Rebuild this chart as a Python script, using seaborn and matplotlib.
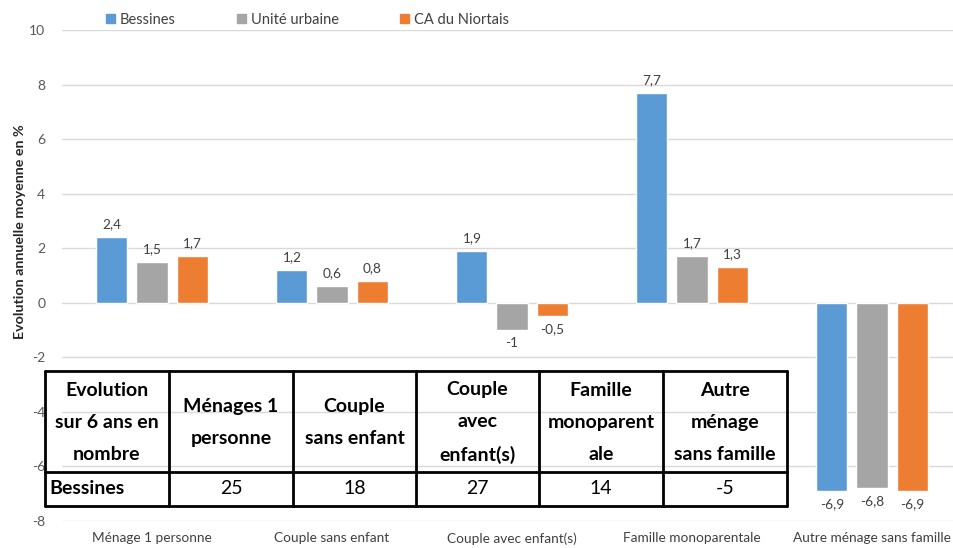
import matplotlib
matplotlib.use("Agg")
import matplotlib.pyplot as plt
import seaborn as sns
import pandas as pd
from matplotlib.patches import Rectangle
from matplotlib.lines import Line2D

categories = ["Ménage 1 personne", "Couple sans enfant", "Couple avec enfant(s)",
              "Famille monoparentale", "Autre ménage sans famille"]
series = ["Bessines", "Unité urbaine", "CA du Niortais"]
bessines = [2.4, 1.2, 1.9, 7.7, -6.9]
unite_urbaine = [1.5, 0.6, -1.0, 1.7, -6.8]
ca_niortais = [1.7, 0.8, -0.5, 1.3, -6.9]
colors = ["#5B9BD5", "#A5A5A5", "#ED7D31"]
y_ticks = [-8, -6, -4, -2, 0, 2, 4, 6, 8, 10]

table_header = ["Evolution\nsur 6 ans en\nnombre", "Ménages 1\npersonne", "Couple\nsans enfant",
                "Couple\navec\nenfant(s)", "Famille\nmonoparent\nale", "Autre\nménage\nsans famille"]
table_row_label = "Bessines"
table_values = ["25", "18", "27", "14", "-5"]

sns.set_theme(style="white")
plt.rcParams["font.family"] = ["Lato", "DejaVu Sans"]

rows = []
for s, vals in zip(series, [bessines, unite_urbaine, ca_niortais]):
    for c, v in zip(categories, vals):
        rows.append({"cat": c, "serie": s, "val": v})
df = pd.DataFrame(rows)

W, H = 954, 548
fig = plt.figure(figsize=(W / 100, H / 100), dpi=100)
ax = fig.add_axes([62 / W, 27 / H, 891 / W, 491 / H])

sns.barplot(data=df, x="cat", y="val", hue="serie", palette=colors, order=categories,
            hue_order=series, width=0.667, gap=0.225, ax=ax, legend=False,
            saturation=1, errorbar=None)

ax.set_xlim(-0.5, 4.45)
ax.set_ylim(-8, 10)
ax.set_yticks(y_ticks)
ax.set_yticklabels([str(t) for t in y_ticks])
ax.yaxis.grid(True, color="#D9D9D9", linewidth=1)
ax.set_axisbelow(True)
for sp in ax.spines.values():
    sp.set_visible(False)
ax.tick_params(axis="y", length=0, pad=12, labelsize=10, labelcolor="#595959")
ax.tick_params(axis="x", length=0, pad=8, labelsize=9.8, labelcolor="#404040")
ax.set_xlabel("")
ax.set_ylabel("")
fig.text(0.021, 0.577, "Evolution annuelle moyenne en %", rotation=90, ha="center", va="center",
         fontsize=10.3, fontweight="bold", color="#262626")

def fmt(v):
    if abs(v - round(v)) < 1e-9:
        return str(int(round(v)))
    return f"{v:.1f}".replace(".", ",")

for cont, vals in zip(ax.containers, [bessines, unite_urbaine, ca_niortais]):
    ax.bar_label(cont, labels=[fmt(v) for v in vals], padding=5, fontsize=9.8, color="#404040")

# legend
handles = [Rectangle((0, 0), 1, 1, color=c) for c in colors]
fig.legend(handles, series, loc="center", bbox_to_anchor=(0.322, 0.964), ncol=3, frameon=False,
           handlelength=0.65, handleheight=0.65, handletextpad=0.3, columnspacing=4.2,
           fontsize=10.5, labelcolor="#404040")

# table overlay
tax = fig.add_axes([0, 0, 1, 1], facecolor="none")
tax.set_xlim(0, W)
tax.set_ylim(H, 0)
tax.axis("off")
xs = [45, 169, 293, 416, 539, 663, 787]
top, mid, bot = 371, 472, 506
lw = 2
tax.add_line(Line2D([xs[0], xs[-1]], [top, top], color="black", lw=lw))
tax.add_line(Line2D([xs[0], xs[-1]], [mid, mid], color="black", lw=lw))
tax.add_line(Line2D([xs[0], xs[-1]], [bot, bot], color="black", lw=lw))
for x in xs:
    tax.add_line(Line2D([x, x], [top, bot], color="black", lw=lw))
for i, txt in enumerate(table_header):
    cx = (xs[i] + xs[i + 1]) / 2
    tax.text(cx, (top + mid) / 2 + 1, txt, ha="center", va="center", fontsize=14,
             fontweight="bold", color="black", linespacing=2.05)
tax.text(xs[0] + 4, (mid + bot) / 2, table_row_label, ha="left", va="center", fontsize=14,
         fontweight="bold", color="black")
for i, v in enumerate(table_values):
    cx = (xs[i + 1] + xs[i + 2]) / 2
    tax.text(cx, (mid + bot) / 2, v, ha="center", va="center", fontsize=14, color="black")

fig.savefig("out.png", dpi=100)
